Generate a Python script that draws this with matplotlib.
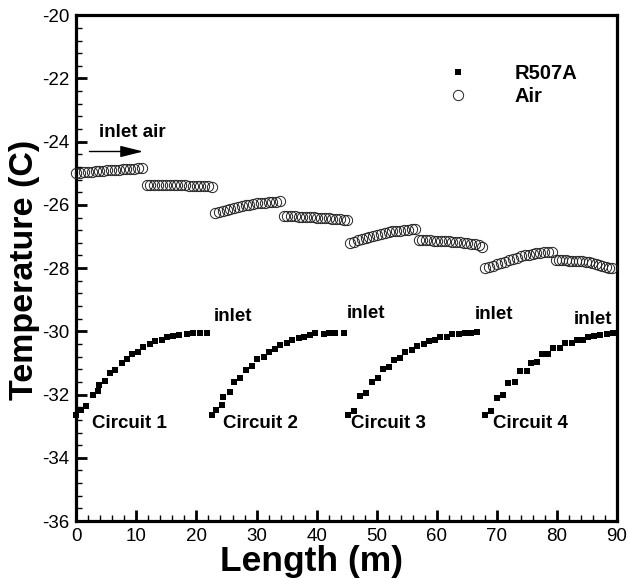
import matplotlib
matplotlib.use("Agg")
import matplotlib.pyplot as plt
from matplotlib.ticker import MultipleLocator

plt.rcParams['font.family'] = ['Liberation Sans', 'DejaVu Sans']
plt.rcParams['axes.unicode_minus'] = False

# R507A refrigerant temperature, four circuits
c1_x = [0.0, 0.78, 1.62, 2.73, 3.67, 3.83, 4.78, 5.62, 6.45, 7.57, 8.5, 9.23, 10.33, 11.17,
        12.28, 13.12, 14.23, 15.07, 16.17, 17.17, 18.4, 19.5, 20.6, 21.7]
c1_y = [-32.65, -32.49, -32.35, -32.01, -31.88, -31.70, -31.56, -31.33, -31.22, -31.01, -30.88,
        -30.73, -30.64, -30.48, -30.41, -30.30, -30.27, -30.19, -30.15, -30.11, -30.08, -30.06,
        -30.04, -30.04]
c2_x = [22.57, 23.28, 24.23, 24.5, 25.5, 26.28, 27.28, 28.28, 29.23, 30.07, 31.17, 32.0, 33.12,
        33.95, 35.07, 35.9, 37.0, 37.83, 38.95, 39.78, 41.17, 42.0, 43.12, 44.5]
c2_y = [-32.65, -32.49, -32.33, -32.09, -31.93, -31.61, -31.48, -31.22, -31.09, -30.88, -30.80,
        -30.64, -30.57, -30.43, -30.38, -30.27, -30.22, -30.17, -30.11, -30.06, -30.08, -30.06,
        -30.04, -30.04]
c3_x = [45.17, 46.17, 47.28, 48.28, 49.23, 50.17, 51.07, 52.12, 52.83, 53.95, 54.78, 55.9, 56.73,
        57.83, 58.67, 59.78, 60.5, 61.62, 62.57, 63.67, 64.62, 65.73, 66.73]
c3_y = [-32.65, -32.51, -32.04, -31.96, -31.59, -31.48, -31.20, -31.12, -30.91, -30.85, -30.64,
        -30.59, -30.45, -30.40, -30.29, -30.27, -30.17, -30.17, -30.08, -30.08, -30.04, -30.04,
        -30.02]
c4_x = [67.95, 68.95, 70.07, 71.07, 71.83, 72.95, 73.78, 74.95, 75.62, 76.73, 77.45, 78.57, 79.4,
        80.5, 81.33, 82.45, 83.28, 84.4, 85.17, 86.17, 87.17, 88.28, 89.4]
c4_y = [-32.65, -32.52, -32.10, -32.02, -31.64, -31.59, -31.27, -31.24, -30.99, -30.96, -30.73,
        -30.73, -30.54, -30.52, -30.38, -30.38, -30.27, -30.27, -30.17, -30.15, -30.11, -30.08,
        -30.06]

# Air temperature, eight tube rows
a1_x = [0.0, 0.64, 1.28, 1.92, 2.56, 3.2, 3.85, 4.49, 5.13, 5.77, 6.41, 7.05, 7.69, 8.33, 8.97, 9.62, 10.26, 10.9]
a1_y = [-24.99, -24.98, -24.97, -24.96, -24.95, -24.94, -24.93, -24.92, -24.91, -24.90, -24.89, -24.88,
        -24.87, -24.86, -24.86, -24.85, -24.84, -24.83]
a2_x = [11.7, 12.34, 12.98, 13.62, 14.26, 14.9, 15.54, 16.18, 16.82, 17.46, 18.1, 18.74, 19.38, 20.02,
        20.66, 21.3, 21.95, 22.6]
a2_y = [-25.36, -25.36, -25.36, -25.36, -25.37, -25.37, -25.37, -25.37, -25.38, -25.38, -25.38, -25.39,
        -25.39, -25.40, -25.40, -25.41, -25.41, -25.42]
a3_x = [23.1, 23.74, 24.37, 25.01, 25.65, 26.28, 26.92, 27.55, 28.19, 28.82, 29.46, 30.09, 30.73, 31.36,
        32.0, 32.64, 33.27, 33.9]
a3_y = [-26.26, -26.23, -26.20, -26.17, -26.13, -26.10, -26.07, -26.04, -26.01, -25.99, -25.97, -25.95,
        -25.94, -25.93, -25.92, -25.91, -25.90, -25.89]
a4_x = [34.5, 35.12, 35.75, 36.37, 37.0, 37.62, 38.24, 38.87, 39.49, 40.11, 40.74, 41.36, 41.98, 42.61,
        43.23, 43.85, 44.48, 45.1]
a4_y = [-26.35, -26.35, -26.36, -26.36, -26.37, -26.38, -26.38, -26.39, -26.39, -26.40, -26.41, -26.42,
        -26.42, -26.43, -26.44, -26.45, -26.47, -26.48]
a5_x = [45.6, 46.24, 46.88, 47.51, 48.15, 48.79, 49.43, 50.07, 50.7, 51.34, 51.98, 52.62, 53.26, 53.9,
        54.53, 55.17, 55.81, 56.45]
a5_y = [-27.21, -27.17, -27.12, -27.08, -27.04, -27.00, -26.97, -26.94, -26.91, -26.89, -26.86, -26.84,
        -26.82, -26.81, -26.79, -26.78, -26.77, -26.77]
a6_x = [57.0, 57.62, 58.25, 58.87, 59.49, 60.12, 60.74, 61.36, 61.99, 62.61, 63.24, 63.86, 64.48, 65.11,
        65.73, 66.35, 66.98, 67.6]
a6_y = [-27.11, -27.11, -27.12, -27.12, -27.13, -27.13, -27.14, -27.15, -27.15, -27.16, -27.17, -27.18,
        -27.19, -27.21, -27.23, -27.25, -27.28, -27.32]
a7_x = [68.1, 68.75, 69.41, 70.06, 70.71, 71.36, 72.02, 72.67, 73.32, 73.98, 74.63, 75.28, 75.94, 76.59,
        77.24, 77.89, 78.55, 79.2]
a7_y = [-28.00, -27.96, -27.92, -27.88, -27.84, -27.80, -27.75, -27.71, -27.67, -27.63, -27.60, -27.57,
        -27.55, -27.53, -27.51, -27.50, -27.49, -27.48]
a8_x = [79.8, 80.35, 80.91, 81.46, 82.01, 82.57, 83.12, 83.67, 84.22, 84.78, 85.33, 85.88, 86.44, 86.99,
        87.54, 88.09, 88.65, 89.2]
a8_y = [-27.74, -27.74, -27.75, -27.75, -27.76, -27.76, -27.77, -27.78, -27.79, -27.80, -27.82, -27.84,
        -27.86, -27.89, -27.92, -27.95, -27.98, -28.01]

circuit_labels = ["Circuit 1", "Circuit 2", "Circuit 3", "Circuit 4"]
circuit_label_x = [2.57, 24.5, 45.7, 69.4]
inlet_label_x = [22.95, 44.95, 66.3, 82.8]
inlet_label_y = [-29.53, -29.45, -29.48, -29.64]

x_ticks = [0, 10, 20, 30, 40, 50, 60, 70, 80, 90]
y_ticks = [-36, -34, -32, -30, -28, -26, -24, -22, -20]

fig = plt.figure(figsize=(6.28, 5.78), dpi=100)
ax = fig.add_axes([0.1215, 0.0986, 0.861, 0.875])

ref_x = c1_x + c2_x + c3_x + c4_x
ref_y = c1_y + c2_y + c3_y + c4_y
air_x = a1_x + a2_x + a3_x + a4_x + a5_x + a6_x + a7_x + a8_x
air_y = a1_y + a2_y + a3_y + a4_y + a5_y + a6_y + a7_y + a8_y

ax.plot(ref_x, ref_y, linestyle='none', marker='s', markersize=4.6, color='black',
        markeredgewidth=0, label='R507A', clip_on=False, zorder=3)
ax.plot(air_x, air_y, linestyle='none', marker='o', markersize=7.4, markerfacecolor='none',
        markeredgecolor='#222222', markeredgewidth=0.7, label='Air', clip_on=False, zorder=3)

ax.set_xlim(0, 90)
ax.set_ylim(-36, -20)
ax.set_xticks(x_ticks)
ax.set_yticks(y_ticks)
ax.xaxis.set_minor_locator(MultipleLocator(2))
ax.yaxis.set_minor_locator(MultipleLocator(0.4))
ax.tick_params(which='major', direction='in', length=8, width=2.0, labelsize=13.5, pad=5)
ax.tick_params(which='minor', direction='in', length=4, width=1.0)
for s in ax.spines.values():
    s.set_linewidth(2.3)

fig.text(311 / 628, 1 - 562 / 578, 'Length (m)', fontsize=25.5, fontweight='bold',
         ha='center', va='center')
fig.text(25 / 628, 1 - 270 / 578, 'Temperature (C)', fontsize=24.5, fontweight='bold',
         ha='center', va='center', rotation=90)

for lab, lx in zip(circuit_labels, circuit_label_x):
    ax.text(lx, -32.92, lab, fontsize=13.5, fontweight='bold', va='center', ha='left')
for lx, ly in zip(inlet_label_x, inlet_label_y):
    ax.text(lx, ly, 'inlet', fontsize=13.5, fontweight='bold', va='center', ha='left')

ax.text(3.83, -23.7, 'inlet air', fontsize=13.5, fontweight='bold', va='center', ha='left')
ax.annotate('', xy=(11.6, -24.31), xytext=(1.73, -24.31),
            arrowprops=dict(arrowstyle='-|>,head_length=1.4,head_width=0.35', color='black', lw=1.0))

leg = ax.legend(loc='center left', bbox_to_anchor=(0.688, 0.862), frameon=False,
                handlelength=1.0, handletextpad=2.3, labelspacing=0.2,
                borderpad=0, borderaxespad=0, numpoints=1, prop={'weight': 'bold', 'size': 14.5})

fig.savefig('out.png', dpi=100)
